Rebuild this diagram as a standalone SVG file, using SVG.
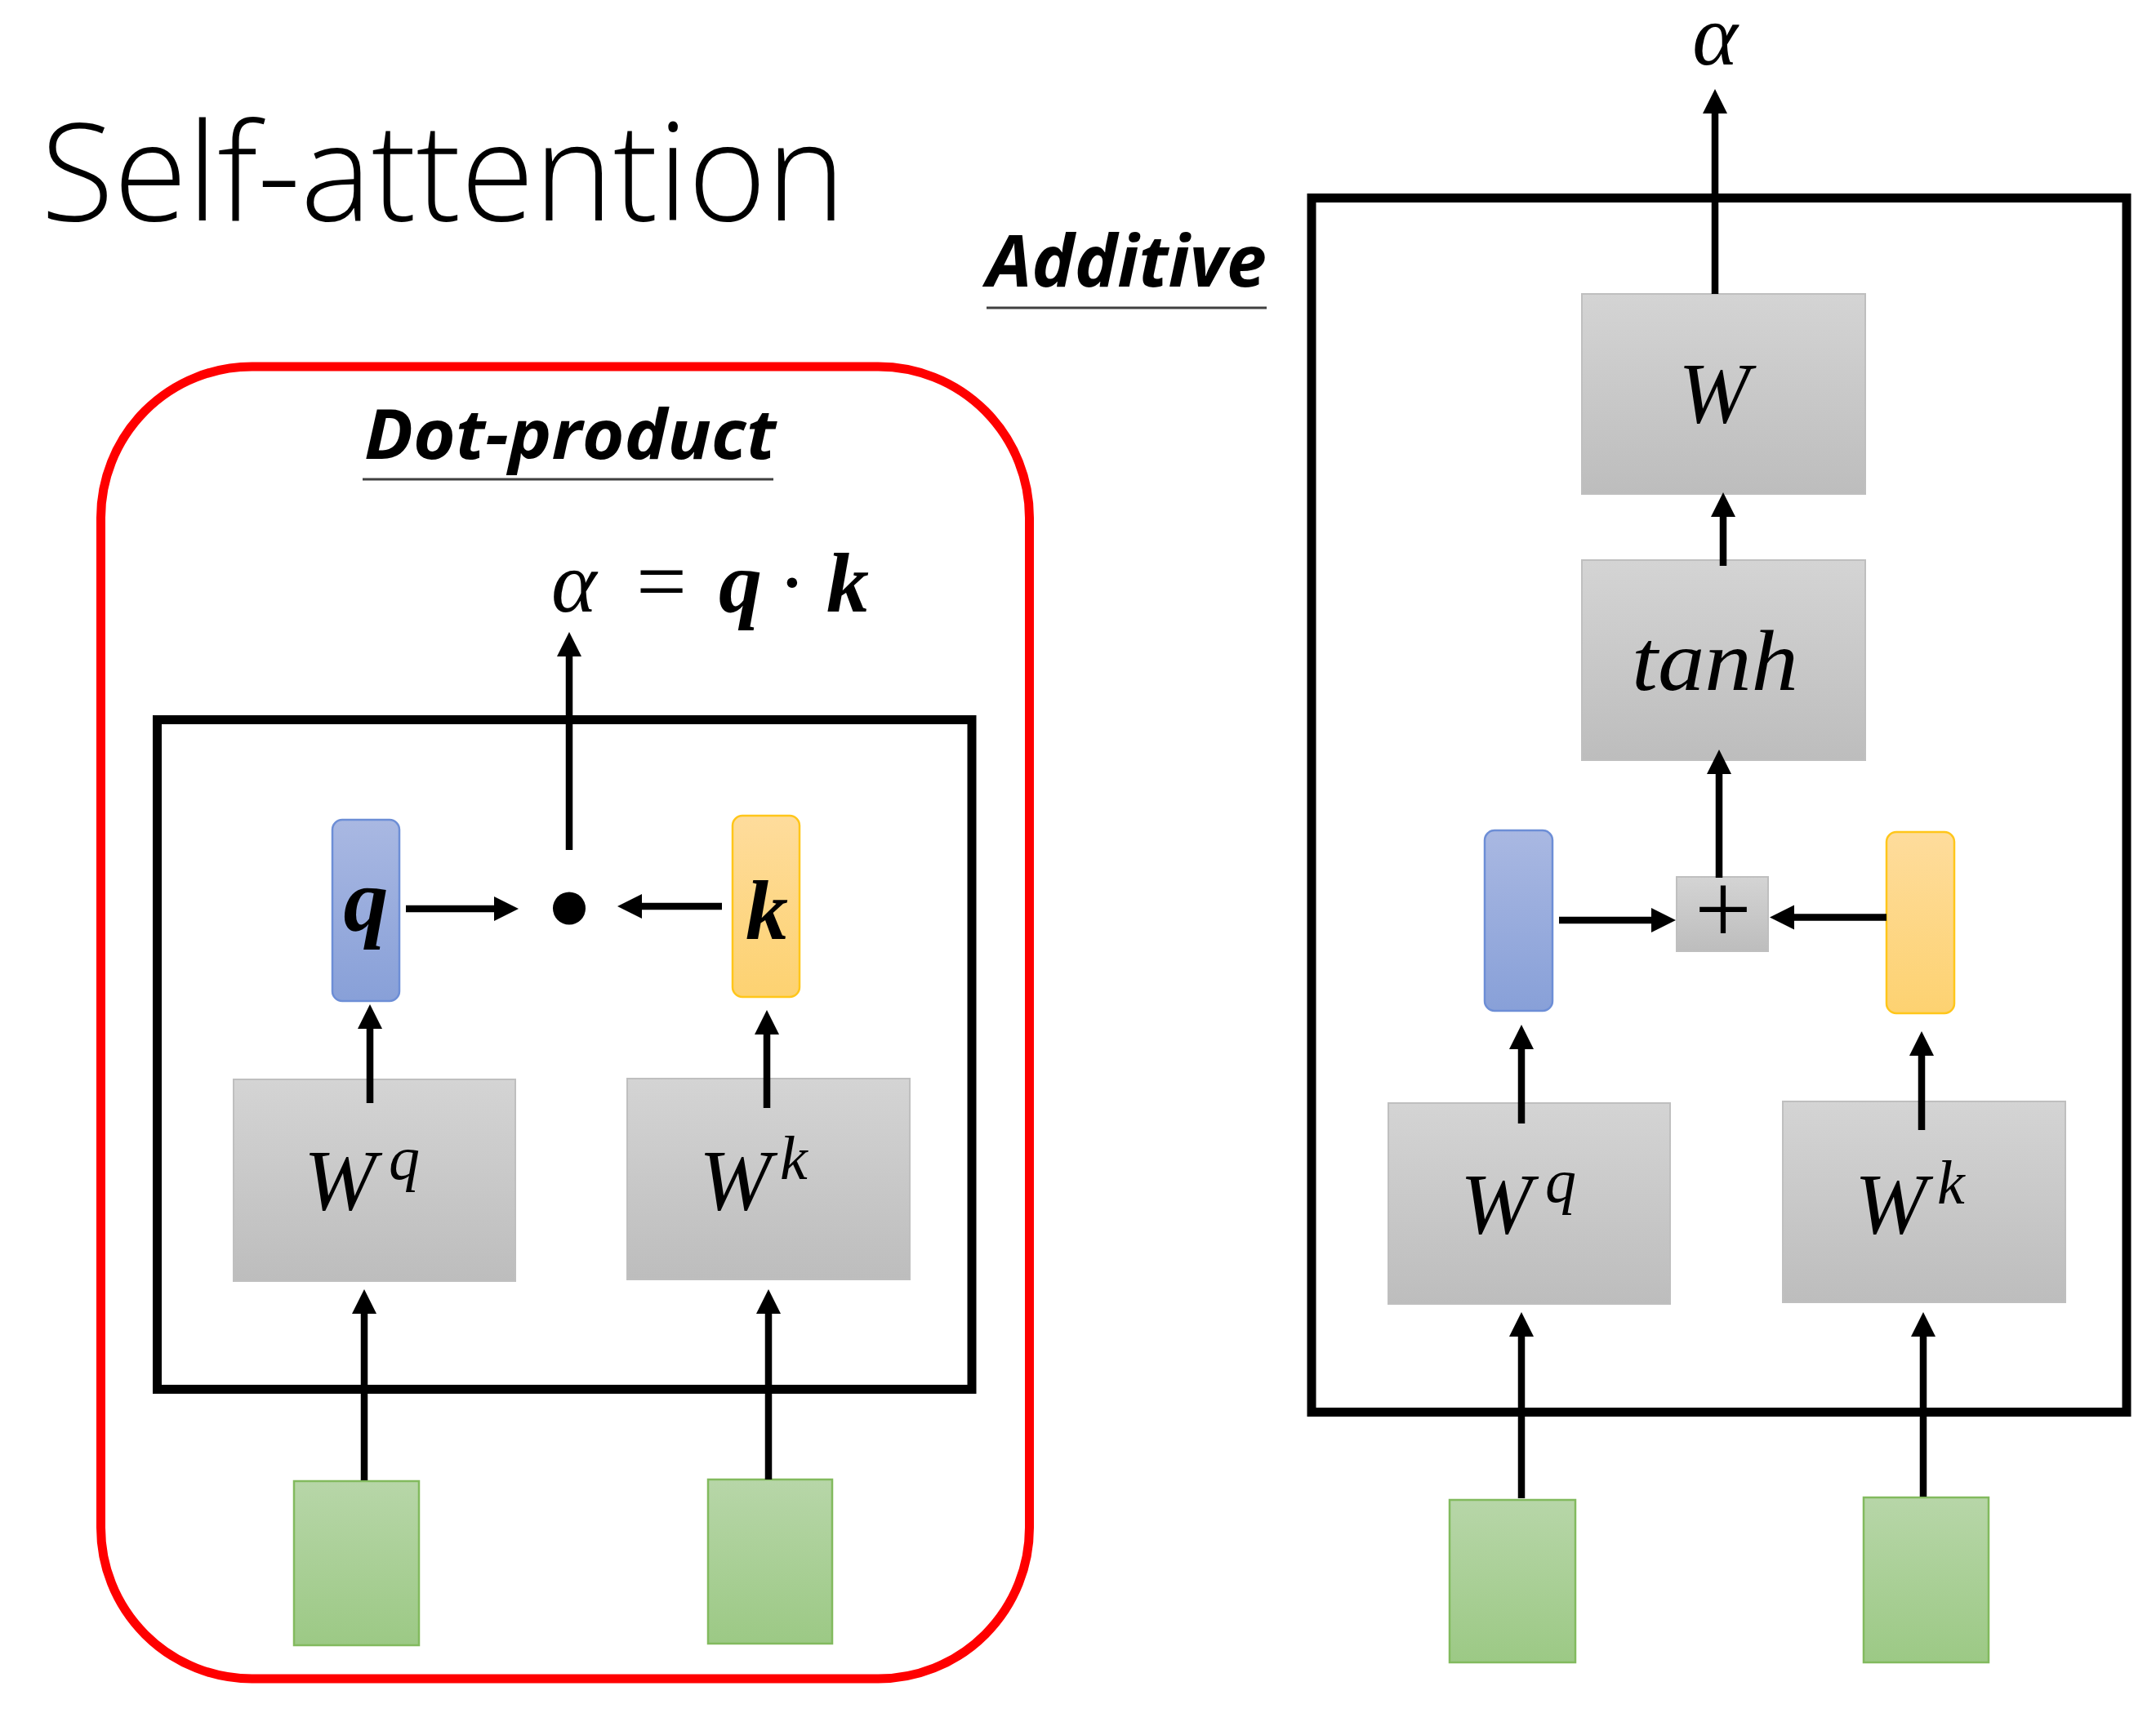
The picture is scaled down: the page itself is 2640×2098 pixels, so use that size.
<svg xmlns="http://www.w3.org/2000/svg" width="2640" height="2098" viewBox="0 0 2640 2098">
<style>
.title{font-family:"Open Sans","Liberation Sans",sans-serif;font-weight:300;fill:#000}
.head{font-family:"Open Sans","Liberation Sans",sans-serif;font-weight:700;font-style:italic;fill:#000}
.math{font-family:"Liberation Serif","DejaVu Serif",serif;font-style:italic;fill:#000}
.mathb{font-family:"Liberation Serif","DejaVu Serif",serif;font-style:italic;font-weight:700;fill:#000}
.up{font-family:"Liberation Serif","DejaVu Serif",serif;font-style:normal;fill:#000}
.gray{fill:url(#gGray);stroke:#BFBFBF;stroke-width:2}
.blue{fill:url(#gBlue);stroke:#6D8ED6;stroke-width:2.5}
.orange{fill:url(#gOrange);stroke:#FFC61A;stroke-width:2.5}
.green{fill:url(#gGreen);stroke:#82BA5E;stroke-width:2.5}
.frame{fill:none;stroke:#000;stroke-width:11}
.conn line{stroke:#000;stroke-width:8.5;marker-end:url(#ah)}
.ul{stroke:#404040;stroke-width:3}
</style>
<defs>
<linearGradient id="gGray" x1="0" y1="0" x2="0" y2="1"><stop offset="0" stop-color="#D4D4D4"/><stop offset="1" stop-color="#BDBDBD"/></linearGradient>
<linearGradient id="gBlue" x1="0" y1="0" x2="0" y2="1"><stop offset="0" stop-color="#A9B8E2"/><stop offset="1" stop-color="#88A0D8"/></linearGradient>
<linearGradient id="gOrange" x1="0" y1="0" x2="0" y2="1"><stop offset="0" stop-color="#FEDC9C"/><stop offset="1" stop-color="#FDD271"/></linearGradient>
<linearGradient id="gGreen" x1="0" y1="0" x2="0" y2="1"><stop offset="0" stop-color="#B7D6A8"/><stop offset="1" stop-color="#9CC985"/></linearGradient>
<marker id="ah" markerUnits="userSpaceOnUse" markerWidth="32" markerHeight="32" refX="4" refY="15" orient="auto" viewBox="0 0 32 32">
<path d="M0,0 L30,15 L0,30 z" fill="#000"/>
</marker>
</defs>
<rect width="2640" height="2098" fill="#fff"/>

<text class="title" x="50" y="270" font-size="167" textLength="985" lengthAdjust="spacingAndGlyphs">Self-attention</text>

<!-- Dot-product panel -->
<g id="dotproduct-panel">
<rect x="123.5" y="449" width="1137" height="1607" rx="185" ry="185" fill="none" stroke="#FF0000" stroke-width="11"/>
<text class="head" x="446" y="562" font-size="85" textLength="504" lengthAdjust="spacingAndGlyphs">Dot-product</text>
<line class="ul" x1="444" y1="587" x2="947" y2="587"/>
<rect class="frame" x="192.5" y="881.5" width="997.5" height="820"/>
</g>
<g id="formula">
<text class="math" x="675" y="749" font-size="106">α</text>
<text class="up" x="779" y="749" font-size="110">=</text>
<text class="mathb" x="880" y="749" font-size="106">q</text>
<text class="up" x="970" y="749" font-size="106" text-anchor="middle">·</text>
<text class="mathb" x="1012" y="749" font-size="104">k</text>
</g>
<g id="dp-q"><rect class="blue" x="407" y="1004" width="82" height="222" rx="12"/><text class="mathb" x="448" y="1140" font-size="110" text-anchor="middle">q</text></g>
<g id="dp-k"><rect class="orange" x="897" y="999" width="82" height="222" rx="12"/><text class="mathb" x="939" y="1150" font-size="104" text-anchor="middle">k</text></g>
<g id="dp-dot"><circle cx="697" cy="1112.5" r="20" fill="#000"/></g>
<g id="dp-wq"><rect class="gray" x="286" y="1322" width="345" height="247"/><text class="math" font-size="106"><tspan x="372" y="1481">W</tspan><tspan x="476" y="1444" font-size="76">q</tspan></text></g>
<g id="dp-wk"><rect class="gray" x="768" y="1321" width="346" height="246"/><text class="math" font-size="106"><tspan x="856" y="1481">W</tspan><tspan x="955" y="1444" font-size="76">k</tspan></text></g>
<g id="dp-in1"><rect class="green" x="360" y="1814" width="153" height="201"/></g>
<g id="dp-in2"><rect class="green" x="867" y="1812" width="152" height="201"/></g>

<!-- Additive panel -->
<g id="additive-panel">
<text class="head" x="1208" y="351" font-size="88" textLength="343" lengthAdjust="spacingAndGlyphs">Additive</text>
<line class="ul" x1="1208" y1="377" x2="1551" y2="377"/>
<rect class="frame" x="1606" y="242.5" width="998" height="1487"/>
</g>
<g id="ad-alpha"><text class="math" x="2100" y="79" font-size="106" text-anchor="middle">α</text></g>
<g id="ad-w"><rect class="gray" x="1937" y="360" width="347" height="245"/><text class="math" x="2099" y="517" font-size="105" text-anchor="middle">W</text></g>
<g id="ad-tanh"><rect class="gray" x="1937" y="686" width="347" height="245"/><text class="math" x="1998" y="845" font-size="105" textLength="204" lengthAdjust="spacingAndGlyphs">tanh</text></g>
<g id="ad-plus"><rect class="gray" x="2053" y="1074" width="112" height="91"/><text class="up" x="2110" y="1155" font-size="124" text-anchor="middle">+</text></g>
<g id="ad-q"><rect class="blue" x="1818" y="1017" width="83" height="221" rx="12"/></g>
<g id="ad-k"><rect class="orange" x="2310" y="1019" width="83" height="222" rx="12"/></g>
<g id="ad-wq"><rect class="gray" x="1700" y="1351" width="345" height="246"/><text class="math" font-size="106"><tspan x="1788" y="1510">W</tspan><tspan x="1892" y="1472" font-size="76">q</tspan></text></g>
<g id="ad-wk"><rect class="gray" x="2183" y="1349" width="346" height="246"/><text class="math" font-size="106"><tspan x="2271" y="1510">W</tspan><tspan x="2372" y="1474" font-size="76">k</tspan></text></g>
<g id="ad-in1"><rect class="green" x="1775" y="1837" width="154" height="199"/></g>
<g id="ad-in2"><rect class="green" x="2282" y="1834" width="153" height="202"/></g>

<g id="connectors" class="conn">
<line x1="453" y1="1351" x2="453" y2="1256"/>
<line x1="939" y1="1357" x2="939" y2="1263"/>
<line x1="446" y1="1813" x2="446" y2="1605"/>
<line x1="941" y1="1812" x2="941" y2="1605"/>
<line x1="497" y1="1113" x2="609" y2="1113"/>
<line x1="884" y1="1110" x2="782" y2="1110"/>
<line x1="697" y1="1041" x2="697" y2="800"/>
<line x1="2100" y1="360" x2="2100" y2="135"/>
<line x1="2110" y1="693" x2="2110" y2="629"/>
<line x1="2105" y1="1075" x2="2105" y2="944"/>
<line x1="1909" y1="1127" x2="2026" y2="1127"/>
<line x1="2310" y1="1123.5" x2="2193" y2="1123.5"/>
<line x1="1863" y1="1376" x2="1863" y2="1281"/>
<line x1="2353" y1="1384" x2="2353" y2="1289"/>
<line x1="1863" y1="1835" x2="1863" y2="1633"/>
<line x1="2355" y1="1833" x2="2355" y2="1633"/>
</g>
</svg>
